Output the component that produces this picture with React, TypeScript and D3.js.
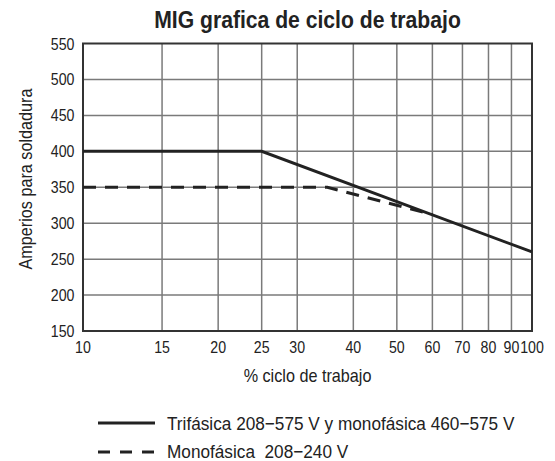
import * as d3 from "d3";
import { useEffect, useRef } from "react";

// duty cycle (%) vs welding amps
const xTicks = [10, 15, 20, 25, 30, 40, 50, 60, 70, 80, 90, 100];
const yTicks = [150, 200, 250, 300, 350, 400, 450, 500, 550];

const trifasicaX = [10, 25, 100];
const trifasicaY = [400, 400, 260];

const monofasicaX = [10, 35, 60];
const monofasicaY = [350, 350, 312];

const legendLabels = [
  "Trifásica 208\u2212575 V y monofásica 460\u2212575 V",
  "Monofásica  208\u2212240 V",
];

const FONT = "'Liberation Sans', Arial, sans-serif";

function App() {
  const svgRef = useRef(null);

  useEffect(() => {
    const svg = d3.select(svgRef.current);
    svg.selectAll("*").remove();

    const left = 83, right = 532, top = 43.5, bottom = 331;

    const xScale = d3.scaleLog().domain([10, 100]).range([left, right]);
    const yScale = d3.scaleLinear().domain([150, 550]).range([bottom, top]);

    // condensed text: horizontal squeeze around the anchor point
    const label = (parent, x, y, sx, txt, size, anchor, weight = "normal") => {
      parent.append("g")
        .attr("transform", `translate(${x},${y}) scale(${sx},1)`)
        .append("text")
        .attr("text-anchor", anchor)
        .attr("font-family", FONT)
        .attr("font-size", size)
        .attr("font-weight", weight)
        .attr("fill", "#222")
        .style("white-space", "pre")
        .text(txt);
    };

    // grid
    svg.append("g")
      .selectAll("line")
      .data(xTicks.slice(1, -1))
      .join("line")
      .attr("x1", (d) => xScale(d))
      .attr("x2", (d) => xScale(d))
      .attr("y1", top)
      .attr("y2", bottom)
      .attr("stroke", "#7a7a7a")
      .attr("stroke-width", 1.5);

    svg.append("g")
      .selectAll("line")
      .data(yTicks.slice(1, -1))
      .join("line")
      .attr("x1", left)
      .attr("x2", right)
      .attr("y1", (d) => yScale(d))
      .attr("y2", (d) => yScale(d))
      .attr("stroke", "#7a7a7a")
      .attr("stroke-width", 1.5);

    svg.append("rect")
      .attr("x", left)
      .attr("y", top)
      .attr("width", right - left)
      .attr("height", bottom - top)
      .attr("fill", "none")
      .attr("stroke", "#333")
      .attr("stroke-width", 2);

    // tick labels
    const ticks = svg.append("g");
    xTicks.forEach((d) => label(ticks, xScale(d), 353, 0.86, d, 16.5, "middle"));
    yTicks.forEach((d) => label(ticks, 74.5, yScale(d) + 6, 0.86, d, 16.5, "end"));

    const myLine = d3.line()
      .x((d) => xScale(d[0]))
      .y((d) => yScale(d[1]));

    const solid = trifasicaX.map((x, i) => [x, trifasicaY[i]]);
    const dashed = monofasicaX.map((x, i) => [x, monofasicaY[i]]);

    svg.append("path")
      .attr("d", myLine(dashed))
      .attr("fill", "none")
      .attr("stroke", "#222")
      .attr("stroke-width", 3)
      .attr("stroke-dasharray", "13,9");

    svg.append("path")
      .attr("d", myLine(solid))
      .attr("fill", "none")
      .attr("stroke", "#222")
      .attr("stroke-width", 3);

    // titles
    label(svg, (left + right) / 2, 28, 0.9, "MIG grafica de ciclo de trabajo", 23.5, "middle", "bold");
    label(svg, (left + right) / 2, 382, 0.9, "% ciclo de trabajo", 18, "middle");

    svg.append("g")
      .attr("transform", "translate(32,179) rotate(-90) scale(0.9,1)")
      .append("text")
      .attr("text-anchor", "middle")
      .attr("font-family", FONT)
      .attr("font-size", 18)
      .attr("fill", "#222")
      .text("Amperios para soldadura");

    // legend
    const legend = svg.append("g");
    legend.selectAll("line")
      .data(legendLabels)
      .join("line")
      .attr("x1", 98)
      .attr("x2", 155)
      .attr("y1", (d, i) => 423 + i * 29)
      .attr("y2", (d, i) => 423 + i * 29)
      .attr("stroke", "#222")
      .attr("stroke-width", 3)
      .attr("stroke-dasharray", (d, i) => (i === 0 ? null : "12,10"));

    legendLabels.forEach((d, i) => label(legend, 167, 430 + i * 28, 0.93, d, 18.5, "start"));
  }, []);

  return (
    <svg
      ref={svgRef}
      width={555}
      height={461}
      style={{ position: "absolute", left: 0, top: 0, background: "#fff" }}
    ></svg>
  );
}

export default App;
